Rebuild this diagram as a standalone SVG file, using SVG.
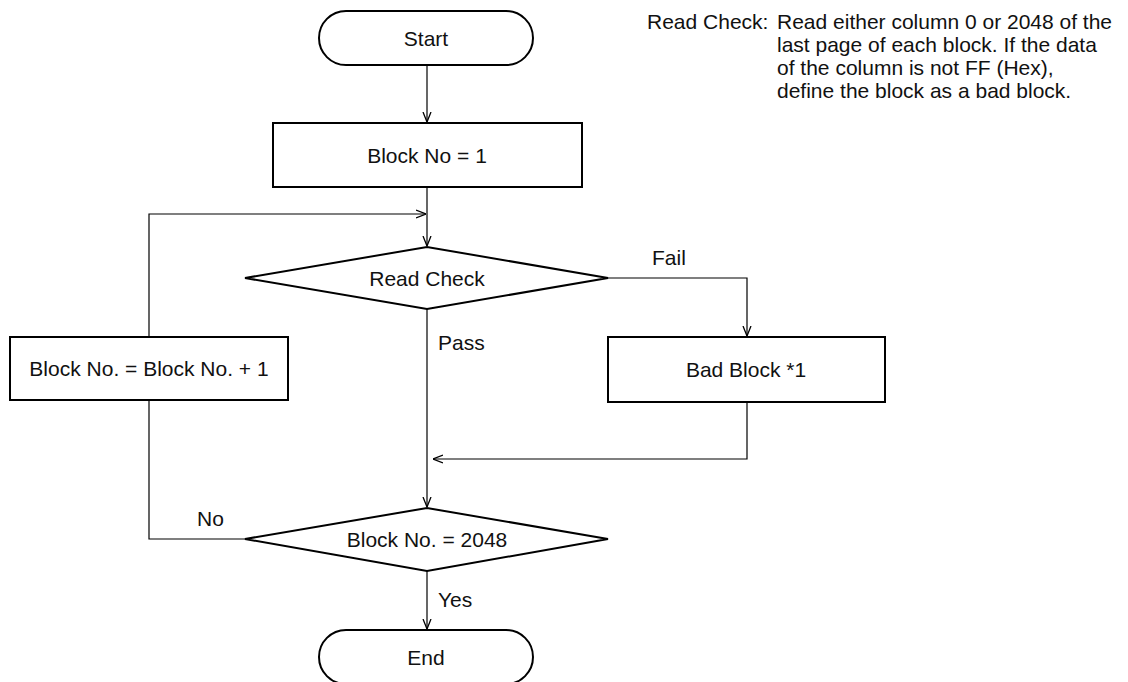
<svg xmlns="http://www.w3.org/2000/svg" width="1128" height="682" viewBox="0 0 1128 682">
<style>
.shape{fill:#fff;stroke:#000;stroke-width:2}
.conn{fill:none;stroke:#000;stroke-width:1.2}
text{font-family:"Liberation Sans",Arial,sans-serif;font-size:21px;fill:#111}
.c{text-anchor:middle}
</style>
<defs>
<marker id="arr" viewBox="0 0 10 10" refX="10" refY="5" markerWidth="10" markerHeight="10" markerUnits="userSpaceOnUse" orient="auto">
<path d="M0,1 L10,5 L0,9" fill="none" stroke="#000" stroke-width="1.3"/>
</marker>
</defs>
<rect width="1128" height="682" fill="#fff"/>
<g id="connectors">
<path class="conn" d="M427,65 V122" marker-end="url(#arr)"/>
<path class="conn" d="M427,187 V246" marker-end="url(#arr)"/>
<path class="conn" d="M149,337 V214 H426" marker-end="url(#arr)"/>
<path class="conn" d="M608,278 H747 V336" marker-end="url(#arr)"/>
<path class="conn" d="M427,309 V507" marker-end="url(#arr)"/>
<path class="conn" d="M747,402 V459 H433" marker-end="url(#arr)"/>
<path class="conn" d="M245,539 H149 V400"/>
<path class="conn" d="M427,571 V629" marker-end="url(#arr)"/>
</g>
<g id="start">
<rect class="shape" x="319" y="11" width="214" height="54" rx="27" ry="27"/>
<text class="c" x="426" y="46">Start</text>
</g>
<g id="init">
<rect class="shape" x="273" y="123" width="309" height="64"/>
<text class="c" x="427" y="163">Block No = 1</text>
</g>
<g id="readcheck">
<polygon class="shape" points="245,278 427,247 608,278 427,309"/>
<text class="c" x="427" y="286">Read Check</text>
</g>
<g id="increment">
<rect class="shape" x="10" y="337" width="278" height="63"/>
<text class="c" x="149" y="376">Block No. = Block No. + 1</text>
</g>
<g id="badblock">
<rect class="shape" x="608" y="337" width="277" height="65"/>
<text class="c" x="746" y="377">Bad Block *1</text>
</g>
<g id="last">
<polygon class="shape" points="245,539 427,508 608,539 427,571"/>
<text class="c" x="427" y="547">Block No. = 2048</text>
</g>
<g id="end">
<rect class="shape" x="319" y="630" width="214" height="54" rx="27" ry="27"/>
<text class="c" x="426" y="665">End</text>
</g>
<g id="labels">
<text x="652" y="265">Fail</text>
<text x="438" y="350">Pass</text>
<text x="197" y="526">No</text>
<text x="438" y="607">Yes</text>
</g>
<g id="note">
<text x="647" y="29">Read Check:</text>
<text x="777" y="29">Read either column 0 or 2048 of the</text>
<text x="777" y="52">last page of each block. If the data</text>
<text x="777" y="75">of the column is not FF (Hex),</text>
<text x="777" y="98">define the block as a bad block.</text>
</g>
</svg>
